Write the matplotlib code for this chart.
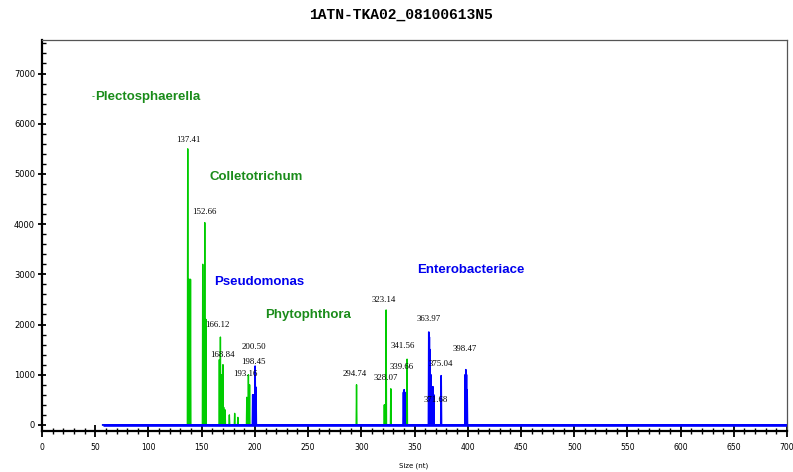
import matplotlib.pyplot as plt
from matplotlib.ticker import MultipleLocator

title = '1ATN-TKA02_08100613N5'

# peaks: size (nt) and height (rfu)
green_size = [136.9, 137.6, 138.2, 138.9, 139.5, 151.0, 152.9, 153.5, 154.0,
              166.6, 167.6, 168.4, 170.0, 170.7, 172.0, 176.0, 181.0, 184.0,
              192.4, 193.9, 195.0, 295.5, 321.6, 322.4, 323.3, 327.7, 343.0]
green_rfu = [5500, 2900, 2900, 2900, 2900, 3200, 4030, 2100, 2100,
             1300, 1750, 1000, 1200, 350, 300, 200, 230, 150,
             550, 1000, 800, 800, 400, 400, 2290, 720, 1310]

blue_size = [198.0, 198.6, 199.3, 200.2, 201.0, 339.6, 340.2, 340.8,
             363.4, 363.9, 364.5, 365.3, 366.5, 367.3, 368.0, 375.0,
             397.6, 398.2, 398.8, 399.4]
blue_rfu = [600, 600, 600, 1170, 750, 650, 700, 650,
            1850, 1750, 1500, 1000, 760, 760, 600, 980,
            1000, 1100, 1000, 700]

# peak call labels: text, position (size, rfu)
label_text = ['137.41', '152.66', '166.12', '168.84', '200.50', '198.45', '193.16',
              '294.74', '323.14', '328.07', '339.66', '341.56', '363.97', '375.04',
              '371.68', '398.47']
label_size = [137.2, 152.3, 164.5, 169.2, 199.2, 198.3, 190.8,
              294.2, 321.4, 323.3, 337.4, 339.3, 362.8, 375.0, 370.3, 397.5]
label_rfu = [5680, 4240, 1990, 1390, 1550, 1260, 1020,
             1020, 2490, 930, 1160, 1570, 2110, 1220, 500, 1510]

# taxa names
taxa = ['Plectosphaerella', 'Colletotrichum', 'Pseudomonas', 'Phytophthora', 'Enterobacteriace']
taxa_size = [49.8, 157.0, 161.7, 209.6, 352.4]
taxa_rfu = [6530, 4940, 2850, 2180, 3080]
taxa_color = ['#1a8c1a', '#1a8c1a', '#0000ee', '#1a8c1a', '#0000ee']


def trace(sizes, rfus, start=57, end=700, hw=0.35):
    xs, ys = [start], [0]
    for s, r in zip(sizes, rfus):
        xs += [s - hw, s, s + hw]
        ys += [0, r, 0]
    xs.append(end)
    ys.append(0)
    return xs, ys


fig = plt.figure(figsize=(7.93, 4.72), dpi=100)
ax = fig.add_axes([0.053, 0.087, 0.9395, 0.8285])

gx, gy = trace(green_size, green_rfu)
bx, by = trace(blue_size, blue_rfu)
ax.plot(gx, gy, color='#00cc00', lw=1.0)
ax.plot([57, 700], [0, 0], color='#0000ff', lw=1.9, solid_capstyle='butt')
ax.plot(bx, by, color='#0000ff', lw=1.2)

for t, s, r in zip(label_text, label_size, label_rfu):
    ax.text(s, r, t, fontsize=6.3, family='Liberation Serif', ha='center', va='center')

for t, s, r, c in zip(taxa, taxa_size, taxa_rfu, taxa_color):
    ax.text(s, r, t, fontsize=9.5, family='Liberation Sans', fontweight='bold',
            color=c, ha='left', va='center')
ax.text(46.2, 6530, '-', fontsize=6, color='#1a8c1a', ha='left', va='center')

ax.set_xlim(0, 700)
ax.xaxis.set_major_locator(MultipleLocator(50))
ax.xaxis.set_minor_locator(MultipleLocator(10))
ax.yaxis.set_minor_locator(MultipleLocator(200))
ax.set_yticks(range(0, 8000, 1000))
ax.set_yticklabels(['0', '1000', '2000', '3000', '4000', '5000', '6000', '7000'])
ax.set_ylim(-120, 7670)
ax.tick_params(axis='x', which='major', direction='inout', length=9, width=1.3,
               labelsize=5.5, pad=4)
ax.tick_params(axis='x', which='minor', direction='inout', length=5, width=1)
ax.tick_params(axis='y', which='major', direction='inout', length=6, width=1.3,
               labelsize=6, pad=2)
ax.tick_params(axis='y', which='minor', direction='in', length=3, width=1)

for side in ['left', 'bottom']:
    ax.spines[side].set_linewidth(1.6)
for side in ['top', 'right']:
    ax.spines[side].set_linewidth(0.9)
    ax.spines[side].set_color('#555555')

ax.set_xlabel('Size (nt)', fontsize=5)
ax.xaxis.set_label_coords(0.499, -0.08)
fig.text(0.505, 0.968, title, fontsize=10.5, family='Liberation Mono',
         fontweight='bold', ha='center', va='center')

fig.savefig('out.png', dpi=100)
